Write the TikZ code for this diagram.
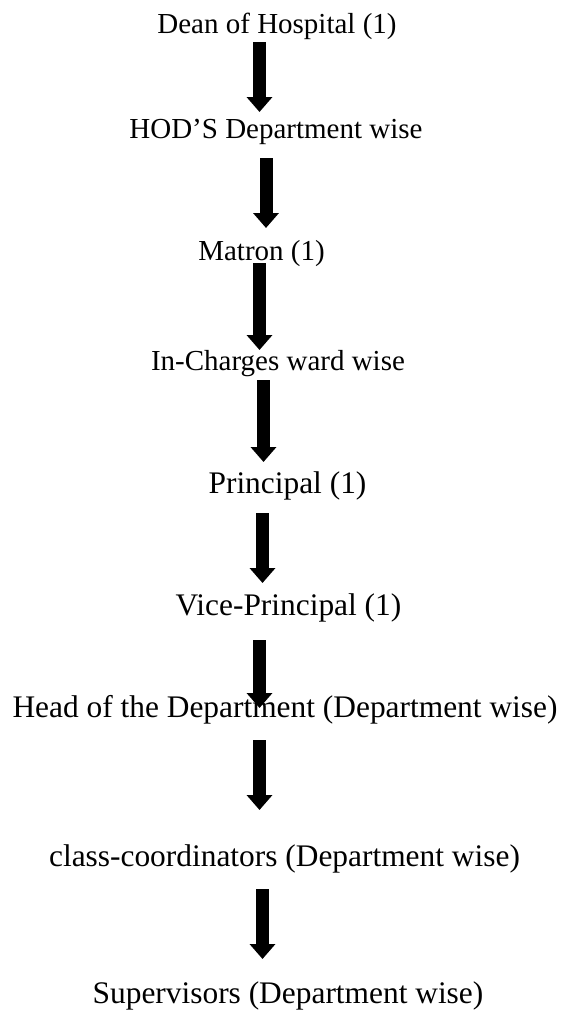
\documentclass[tikz,border=0pt]{standalone}
\usepackage{fontspec}
\setmainfont{Liberation Serif}
\usetikzlibrary{arrows.meta}
\tikzset{
  lbl/.style={anchor=base, inner sep=0pt, font=\fontsize{29}{34}\selectfont},
  lblb/.style={anchor=base, inner sep=0pt, font=\fontsize{31.4}{36}\selectfont},
  bigarrow/.style={line width=13pt, -{Triangle[width=25pt,length=15pt]}}
}
\begin{document}
\begin{tikzpicture}[x=1pt,y=-1pt]
\useasboundingbox[fill=white] (0,0) rectangle (565,1012);
\node[lbl] (dean) at (277,33) {Dean of Hospital (1)};
\node[lbl] (hod) at (276,138) {HOD’S Department wise};
\node[lbl] (matron) at (261.5,260) {Matron (1)};
\node[lbl] (incharge) at (278,370) {In-Charges ward wise};
\node[lblb] (principal) at (287.5,493) {Principal (1)};
\node[lblb] (vice) at (288.5,615) {Vice-Principal (1)};
\node[lblb] (head) at (285,717) {Head of the Department (Department wise)};
\node[lblb] (class) at (284.5,866) {class-coordinators (Department wise)};
\node[lblb] (sup) at (288,1003) {Supervisors (Department wise)};
\coordinate (a1s) at (259.5,42);  \coordinate (a1e) at (259.5,112);
\coordinate (a2s) at (266,158);   \coordinate (a2e) at (266,228);
\coordinate (a3s) at (259.5,263); \coordinate (a3e) at (259.5,350);
\coordinate (a4s) at (263.5,380); \coordinate (a4e) at (263.5,462);
\coordinate (a5s) at (262.5,513); \coordinate (a5e) at (262.5,583);
\coordinate (a6s) at (259.5,640); \coordinate (a6e) at (259.5,708);
\coordinate (a7s) at (259.5,740); \coordinate (a7e) at (259.5,810);
\coordinate (a8s) at (262.5,889); \coordinate (a8e) at (262.5,959);
\draw[bigarrow] (a1s) -- (a1e);
\draw[bigarrow] (a2s) -- (a2e);
\draw[bigarrow] (a3s) -- (a3e);
\draw[bigarrow] (a4s) -- (a4e);
\draw[bigarrow] (a5s) -- (a5e);
\draw[bigarrow] (a6s) -- (a6e);
\draw[bigarrow] (a7s) -- (a7e);
\draw[bigarrow] (a8s) -- (a8e);
\end{tikzpicture}
\end{document}
